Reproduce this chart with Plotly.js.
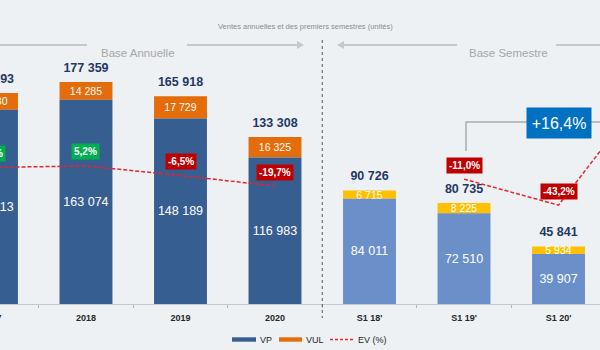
<!DOCTYPE html>
<html><head><meta charset="utf-8">
<script src="https://cdn.plot.ly/plotly-3.0.1.min.js"></script>
<style>
html,body{margin:0;padding:0;background:#eef1f4;overflow:hidden;width:600px;height:350px;}
#chart{position:absolute;left:-50px;top:0;width:700px;height:350px;}
</style>
</head><body><div id="chart"></div>
<script>
// ---- data ----
const categories = ["2017", "2018", "2019", "2020", "S1 18'", "S1 19'", "S1 20'", "S1 21'"];
const periodType = ["A", "A", "A", "A", "S", "S", "S", "S"];
const vpValues = [155113, 163074, 148189, 116983, 84011, 72510, 39907, null];
const vulValues = [13480, 14285, 17729, 16325, 6715, 8225, 5934, null];
const totalValues = [168593, 177359, 165918, 133308, 90726, 80735, 45841, null];
const evValues = [3.4, 5.2, -6.5, -19.7, null, -11.0, -43.2, 108];
const comparisonLabel = "+16,4%";
const chartTitle = "Ventes annuelles et des premiers semestres (unités)";
const sectionLabels = ["Base Annuelle", "Base Semestre"];
const legendLabels = ["VP", "VUL", "EV (%)"];

// ---- styling ----
const FONT = "'Liberation Sans', Arial, sans-serif";
const BG = "#eef1f4";
const vpColors = periodType.map(t => t === "A" ? "#375e91" : "#6b8fc8");
const vulColors = periodType.map(t => t === "A" ? "#e46c0a" : "#ffc000");
const evColor = "#e3262d";

const fmt = n => (n === null || n === undefined) ? "" : String(n).replace(/\B(?=(\d{3})+(?!\d))/g, " ");
const fmtPct = v => v.toFixed(1).replace(".", ",") + "%";

// page-pixel helpers for decorations (figure spans page x -50..650, plot area y 0..304)
const PH = 304;
const X = p => (p + 50) / 700;
const Y = p => (PH - p) / PH;

const traces = [
  {
    type: "bar", name: legendLabels[1], x: categories, y: vulValues, base: vpValues,
    marker: {color: vulColors}, showlegend: false,
    text: vulValues.map(fmt), textposition: "inside", insidetextanchor: "middle",
    textangle: 0, constraintext: "none",
    textfont: {family: FONT, size: 10.5, color: "#ffffff"}, hoverinfo: "skip"
  },
  {
    type: "bar", name: legendLabels[0], x: categories, y: vpValues,
    marker: {color: vpColors}, showlegend: false,
    text: vpValues.map(fmt), textposition: "inside", insidetextanchor: "middle",
    textangle: 0, constraintext: "none",
    textfont: {family: FONT, size: 12.5, color: "#ffffff"}, hoverinfo: "skip"
  },
  {
    type: "scatter", mode: "lines", name: legendLabels[2], x: categories, y: evValues, yaxis: "y2",
    connectgaps: false, showlegend: false,
    line: {color: evColor, width: 1.5, dash: "4px,2px"}, hoverinfo: "skip"
  },
  {
    type: "scatter", mode: "markers+text", x: categories, y: totalValues, showlegend: false,
    text: totalValues.map(fmt), textposition: "top center", cliponaxis: false,
    marker: {size: 10, opacity: 0},
    textfont: {family: FONT, size: 12.5, color: "#1f3864", weight: "bold"}, hoverinfo: "skip"
  }
];

const annotations = [
  {xref: "paper", yref: "paper", x: X(305), y: Y(20), xanchor: "center", text: chartTitle, showarrow: false,
   font: {family: FONT, size: 7.5, color: "#8c8c8c"}},
  {xref: "paper", yref: "paper", x: X(138), y: Y(45), xanchor: "center", text: sectionLabels[0], showarrow: false,
   font: {family: FONT, size: 11.5, color: "#a6a6a6"}},
  {xref: "paper", yref: "paper", x: X(508), y: Y(45), xanchor: "center", text: sectionLabels[1], showarrow: false,
   font: {family: FONT, size: 11.5, color: "#a6a6a6"}},
  {xref: "x", yref: "paper", x: 6, y: Y(123), xanchor: "center", text: comparisonLabel, showarrow: false,
   bgcolor: "#0070c0", width: 58, height: 24, borderpad: 3,
   font: {family: FONT, size: 16, color: "#ffffff"}},
  // legend labels
  {xref: "paper", yref: "paper", x: X(258), y: Y(339.5), xanchor: "left", yanchor: "middle", text: legendLabels[0],
   showarrow: false, font: {family: FONT, size: 9, color: "#262626"}},
  {xref: "paper", yref: "paper", x: X(303.5), y: Y(339.5), xanchor: "left", yanchor: "middle", text: legendLabels[1],
   showarrow: false, font: {family: FONT, size: 9, color: "#262626"}},
  {xref: "paper", yref: "paper", x: X(355.5), y: Y(339.5), xanchor: "left", yanchor: "middle", text: legendLabels[2],
   showarrow: false, font: {family: FONT, size: 9, color: "#262626"}}
];
evValues.forEach((v, i) => {
  if (v === null || i === categories.length - 1) return;
  annotations.push({
    // category index (numeric) so that year-like names are not read as numbers
    xref: "x", yref: "y2", x: i, y: v, yshift: 14, xanchor: "center", text: fmtPct(v), showarrow: false,
    bgcolor: v >= 0 ? "#00b050" : "#c00000", borderpad: 2,
    font: {family: FONT, size: 10, color: "#ffffff", weight: "bold"}
  });
});

const grayLine = {color: "#c4c7cb", width: 2};
const shapes = [
  // separator between annual and semester blocks
  {type: "line", xref: "x", yref: "paper", x0: 3.5, x1: 3.5, y0: Y(40), y1: Y(318),
   line: {color: "#555555", width: 1, dash: "dot"}},
  // Base Annuelle guide
  {type: "line", xref: "paper", yref: "paper", x0: X(-20), x1: X(87), y0: Y(45), y1: Y(45), line: grayLine},
  {type: "line", xref: "paper", yref: "paper", x0: X(187), x1: X(298), y0: Y(45), y1: Y(45), line: grayLine},
  {type: "path", xref: "paper", yref: "paper",
   path: `M ${X(297)} ${Y(41)} L ${X(304)} ${Y(45)} L ${X(297)} ${Y(49)} Z`,
   fillcolor: "#c4c7cb", line: {width: 0}},
  // Base Semestre guide
  {type: "path", xref: "paper", yref: "paper",
   path: `M ${X(344)} ${Y(41)} L ${X(337)} ${Y(45)} L ${X(344)} ${Y(49)} Z`,
   fillcolor: "#c4c7cb", line: {width: 0}},
  {type: "line", xref: "paper", yref: "paper", x0: X(343), x1: X(457), y0: Y(45), y1: Y(45), line: grayLine},
  {type: "line", xref: "paper", yref: "paper", x0: X(556), x1: X(650), y0: Y(45), y1: Y(45), line: grayLine},
  // comparison bracket
  {type: "path", xref: "paper", yref: "paper",
   path: `M ${X(466)} ${Y(151)} L ${X(466)} ${Y(122)} L ${X(650)} ${Y(122)}`,
   line: {color: "#a9acb0", width: 1.5}},
  // legend swatches
  {type: "rect", xref: "paper", yref: "paper", x0: X(232), x1: X(256), y0: Y(337.3), y1: Y(341.7),
   fillcolor: vpColors[0], line: {width: 0}},
  {type: "rect", xref: "paper", yref: "paper", x0: X(279), x1: X(302), y0: Y(337.3), y1: Y(341.7),
   fillcolor: vulColors[0], line: {width: 0}},
  {type: "line", xref: "paper", yref: "paper", x0: X(330), x1: X(353), y0: Y(339.5), y1: Y(339.5),
   line: {color: evColor, width: 1.5, dash: "3px,2px"}}
];

const layout = {
  width: 700, height: 350,
  margin: {l: 0, r: 0, t: 0, b: 46, pad: 0},
  paper_bgcolor: BG, plot_bgcolor: BG,
  separators: ", ",
  barmode: "overlay", bargap: 0.44,
  font: {family: FONT, color: "#262626"},
  xaxis: {
    type: "category", range: [-0.439, 6.968], showline: true, linecolor: "#c9c9c9", linewidth: 1,
    ticks: "outside", tickson: "boundaries", ticklen: 3, tickcolor: "#b5b5b5",
    ticklabelstandoff: 5,
    tickfont: {family: FONT, size: 9, color: "#262626", weight: "bold"},
    showgrid: false, zeroline: false, fixedrange: true
  },
  yaxis: {range: [0, 242800], visible: false, showgrid: false, zeroline: false, fixedrange: true},
  yaxis2: {range: [-165.2, 210.1], overlaying: "y", visible: false, showgrid: false, zeroline: false, fixedrange: true},
  showlegend: false,
  annotations: annotations,
  shapes: shapes
};

Plotly.newPlot("chart", traces, layout, {displayModeBar: false, staticPlot: true});
</script>
</body></html>
